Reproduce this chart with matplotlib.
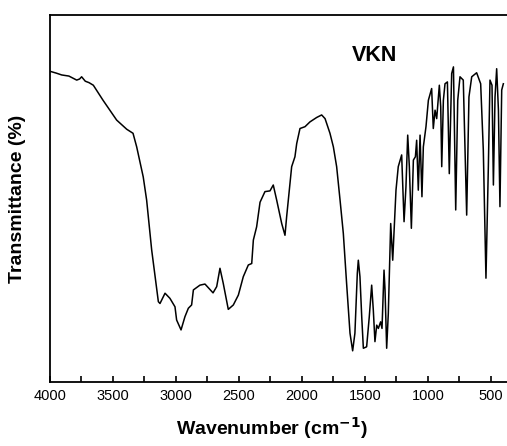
import matplotlib
matplotlib.use("Agg")
import matplotlib.pyplot as plt
from matplotlib.ticker import MultipleLocator

plt.rcParams['font.family'] = ['Liberation Sans', 'DejaVu Sans']

# FTIR spectrum of VKN
wavenumber = [4000, 3950, 3907, 3850, 3788, 3765, 3749, 3720, 3690, 3656, 3579, 3471,
              3391, 3341, 3312, 3260, 3233,
              3193, 3140, 3127, 3087, 3048, 3008, 2995, 2960, 2929, 2902, 2876, 2862,
              2810, 2770, 2706, 2677, 2651, 2625, 2585, 2545, 2505, 2466, 2426, 2399,
              2386, 2360, 2333, 2294, 2254, 2228, 2201, 2161, 2135, 2122, 2082, 2056,
              2042, 2016, 1976, 1937, 1884, 1844, 1817, 1778, 1751, 1725, 1698, 1672,
              1646, 1619, 1598, 1580, 1561, 1553, 1540, 1526, 1513, 1487, 1466, 1447,
              1434, 1421, 1407, 1394, 1376, 1365, 1349, 1341, 1328, 1315, 1296, 1280,
              1270, 1254, 1236, 1209, 1190, 1175, 1161, 1148, 1132, 1116, 1100, 1090,
              1077, 1063, 1048, 1037, 1016, 997, 971, 958, 944, 931, 910, 899, 891,
              878, 865, 846, 831, 812, 798, 780, 764, 746, 720, 693, 675, 653, 614,
              582, 561, 540, 521, 508, 492, 481, 468, 455, 441, 429, 415, 402]
transmittance = [84.7, 84.2, 83.7, 83.4, 82.3, 82.6, 83.2, 82.0, 81.6, 80.9, 76.8, 71.4,
                 68.9, 67.8, 64.1, 55.9, 49.6,
                 36.0, 21.9, 21.4, 24.2, 22.8, 20.5, 16.9, 14.2, 17.8, 20.1, 21.0, 25.1,
                 26.4, 26.7, 24.3, 26.0, 31.0, 26.9, 19.8, 21.0, 23.7, 28.7, 31.9, 32.3,
                 38.7, 42.3, 49.0, 51.9, 52.1, 53.7, 49.6, 43.2, 40.0, 45.0, 58.7, 61.4,
                 65.0, 69.1, 69.6, 70.9, 72.1, 72.8, 71.8, 67.8, 64.1, 58.7, 49.6, 40.5,
                 26.9, 13.3, 8.5, 13.3, 29.6, 33.2, 28.7, 17.8, 9.2, 9.6, 17.8, 26.4,
                 19.6, 11.0, 15.5, 14.6, 16.4, 14.6, 30.5, 25.1, 9.2, 18.7, 43.2, 33.2,
                 40.5, 52.3, 58.7, 61.9, 43.7, 53.2, 67.3, 58.7, 41.9, 60.5, 61.4, 65.9,
                 52.3, 67.3, 50.5, 64.1, 69.6, 76.8, 80.0, 69.1, 74.1, 71.8, 80.9, 75.0, 58.7,
                 76.8, 81.3, 81.8, 56.8, 84.1, 85.9, 46.9, 76.8, 83.2, 82.3, 45.5, 77.7, 83.2, 84.3,
                 81.3, 63.2, 28.3, 58.7, 82.3, 80.9, 53.7, 77.7, 85.4, 74.1, 47.8, 79.6, 81.3]
x_ticks = [4000, 3500, 3000, 2500, 2000, 1500, 1000, 500]

fig = plt.figure(figsize=(5.07, 4.46), dpi=100)
ax = fig.add_axes([0.0986, 0.1435, 0.9014, 0.8225])

ax.plot(wavenumber, transmittance, color='black', linewidth=1.1)

ax.set_xlim(4000, 373)
ax.set_ylim(0, 100)
ax.set_xticks(x_ticks)
ax.xaxis.set_minor_locator(MultipleLocator(250))
ax.set_yticks([])
ax.tick_params(axis='x', which='both', direction='in', length=4, width=1.2,
               labelsize=10.5, pad=5)
for side in ['left', 'bottom', 'top']:
    ax.spines[side].set_linewidth(1.3)
ax.spines['right'].set_visible(False)

ax.set_xlabel('Wavenumber (cm$^{\\mathbf{-1}}$)', fontsize=14, fontweight='bold', va='center')
ax.xaxis.set_label_coords(0.486, -0.125)
ax.set_ylabel('Transmittance (%)', fontsize=14, fontweight='bold', va='center')
ax.yaxis.set_label_coords(-0.072, 0.5)
ax.text(1421, 89, 'VKN', fontsize=15.5, fontweight='bold', ha='center', va='center')

plt.savefig('out.png', dpi=100)
